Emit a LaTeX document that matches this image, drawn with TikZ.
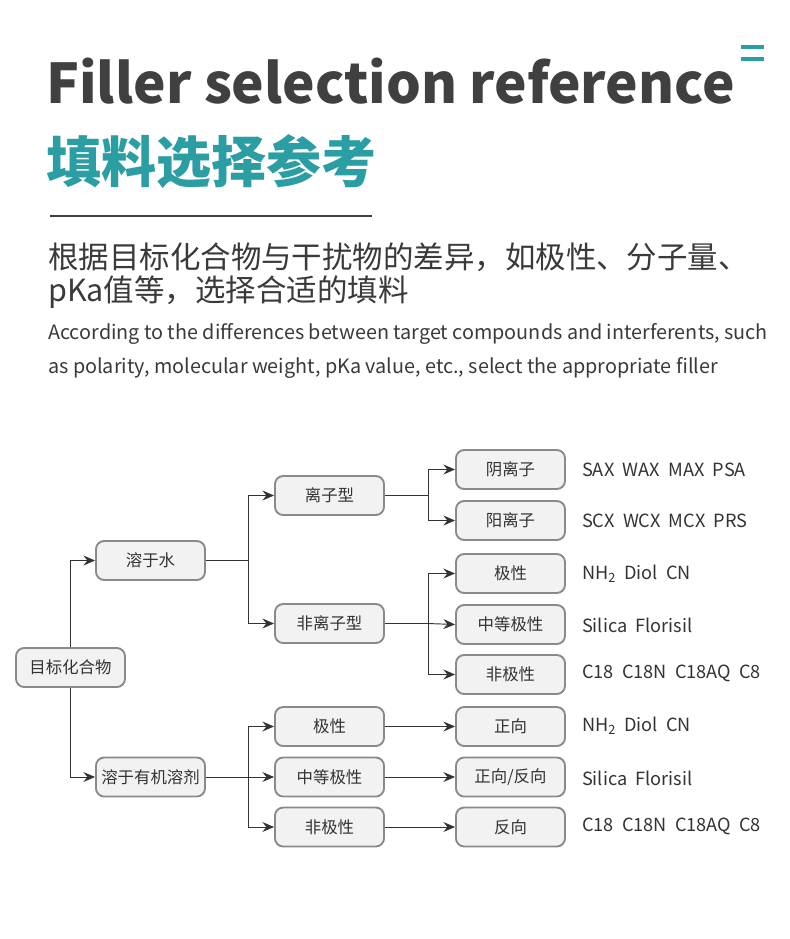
\documentclass[tikz,border=0pt]{standalone}
\usepackage{fontspec}
\usetikzlibrary{arrows.meta}
\setmainfont{Noto Sans CJK SC}
\definecolor{ink}{HTML}{404040}
\definecolor{teal}{HTML}{2A9EA2}
\definecolor{body}{HTML}{3A3A3A}
\definecolor{boxfill}{HTML}{F2F2F2}
\definecolor{boxline}{HTML}{8A8A8A}
\definecolor{wire}{HTML}{333333}
\tikzset{
  box/.style={draw=boxline,fill=boxfill,line width=1.6pt,rounded corners=7pt,
    minimum width=3.27cm,minimum height=1.17cm,inner sep=0pt,
    font=\fontsize{14}{16}\selectfont,text=wire},
  fill label/.style={anchor=west,font=\fontsize{15.5}{18}\selectfont,text=wire},
  wire/.style={draw=wire,line width=.8pt},
  arr/.style={wire,-{Stealth[length=10pt,width=8.5pt,inset=3.5pt]}}
}
\newcommand{\wsp}{\hskip .45em}
\begin{document}
\begin{tikzpicture}[x=0.03cm,y=-0.03cm]
\useasboundingbox (0,0) rectangle (790,939);
\fill[white] (0,0) rectangle (790,939);
% heading
\node[anchor=base west,inner sep=0pt,font=\fontsize{46.8}{52}\selectfont\bfseries,text=ink] (title) at (46,103) {Filler selection reference};
\fill[teal] (741,45) rectangle (764,49);
\fill[teal] (741,57) rectangle (764,61);
\node[anchor=west,inner sep=0pt,font=\fontsize{47}{50}\selectfont\bfseries,text=teal] (subtitle) at (46,162) {填料选择参考};
\draw[ink,line width=1.2pt] (50,216) -- (372,216);
% intro text
\node[anchor=west,inner sep=0pt,font=\fontsize{26}{30}\selectfont,text=body] (cn1) at (48,257) {根据目标化合物与干扰物的差异，如极性、分子量、};
\node[anchor=west,inner sep=0pt,font=\fontsize{26}{30}\selectfont,text=body] (cn2) at (48,292) {pKa值等，选择合适的填料};
\node[anchor=west,inner sep=0pt,font=\fontsize{16.9}{20}\selectfont,text=body] (en1) at (48,334) {According to the differences between target compounds and interferents, such};
\node[anchor=west,inner sep=0pt,font=\fontsize{16.9}{20}\selectfont,text=body] (en2) at (48,368) {as polarity, molecular weight, pKa value, etc., select the appropriate filler};
% tree
\node[box] (root) at (70.5,667.5) {目标化合物};
\node[box] (water) at (150.5,560.5) {溶于水};
\node[box] (organic) at (150.5,777) {溶于有机溶剂};
\node[box] (ionic) at (329.5,495.5) {离子型};
\node[box] (nonionic) at (329.5,623.5) {非离子型};
\node[box] (polar) at (329.5,726.5) {极性};
\node[box] (midpolar) at (329.5,777) {中等极性};
\node[box] (apolar) at (329.5,827) {非极性};
\node[box] (anion) at (510.5,469.5) {阴离子};
\node[box] (cation) at (510.5,520.5) {阳离子};
\node[box] (wpolar) at (510.5,573.5) {极性};
\node[box] (wmid) at (510.5,624.5) {中等极性};
\node[box] (wapolar) at (510.5,674.5) {非极性};
\node[box] (normal) at (510.5,726.5) {正向};
\node[box] (both) at (510.5,777) {正向/反向};
\node[box] (reverse) at (510.5,827) {反向};
% fillers
\node[fill label] (fanion) at (578,469.5) {SAX\wsp WAX\wsp MAX\wsp PSA};
\node[fill label] (fcation) at (578,520.5) {SCX\wsp WCX\wsp MCX\wsp PRS};
\node[fill label] (fwpolar) at (578,573.5) {NH\textsubscript{2}\wsp Diol\wsp CN};
\node[fill label] (fwmid) at (578,625.5) {Silica\wsp Florisil};
\node[fill label] (fwapolar) at (578,673.5) {C18\wsp C18N\wsp C18AQ\wsp C8};
\node[fill label] (fnormal) at (578,725.5) {NH\textsubscript{2}\wsp Diol\wsp CN};
\node[fill label] (fboth) at (578,778) {Silica\wsp Florisil};
\node[fill label] (freverse) at (578,826) {C18\wsp C18N\wsp C18AQ\wsp C8};
% connectors
\coordinate (jw) at (248,560.5);
\coordinate (jo) at (248,777);
\coordinate (ji) at (428,495.5);
\coordinate (jn) at (428,623.5);
\draw[arr] (root.north) |- (water.west);
\draw[arr] (root.south) |- (organic.west);
\draw[arr] (water.east) -- (jw) |- (ionic.west);
\draw[arr] (jw) |- (nonionic.west);
\draw[arr] (organic.east) -- (jo) |- (polar.west);
\draw[arr] (jo) -- (midpolar.west);
\draw[arr] (jo) |- (apolar.west);
\draw[arr] (ionic.east) -- (ji) |- (anion.west);
\draw[arr] (ji) |- (cation.west);
\draw[arr] (nonionic.east) -- (jn) |- (wpolar.west);
\draw[arr] (jn) -- (wmid.west);
\draw[arr] (jn) |- (wapolar.west);
\draw[arr] (polar.east) -- (normal.west);
\draw[arr] (midpolar.east) -- (both.west);
\draw[arr] (apolar.east) -- (reverse.west);
\end{tikzpicture}
\end{document}
